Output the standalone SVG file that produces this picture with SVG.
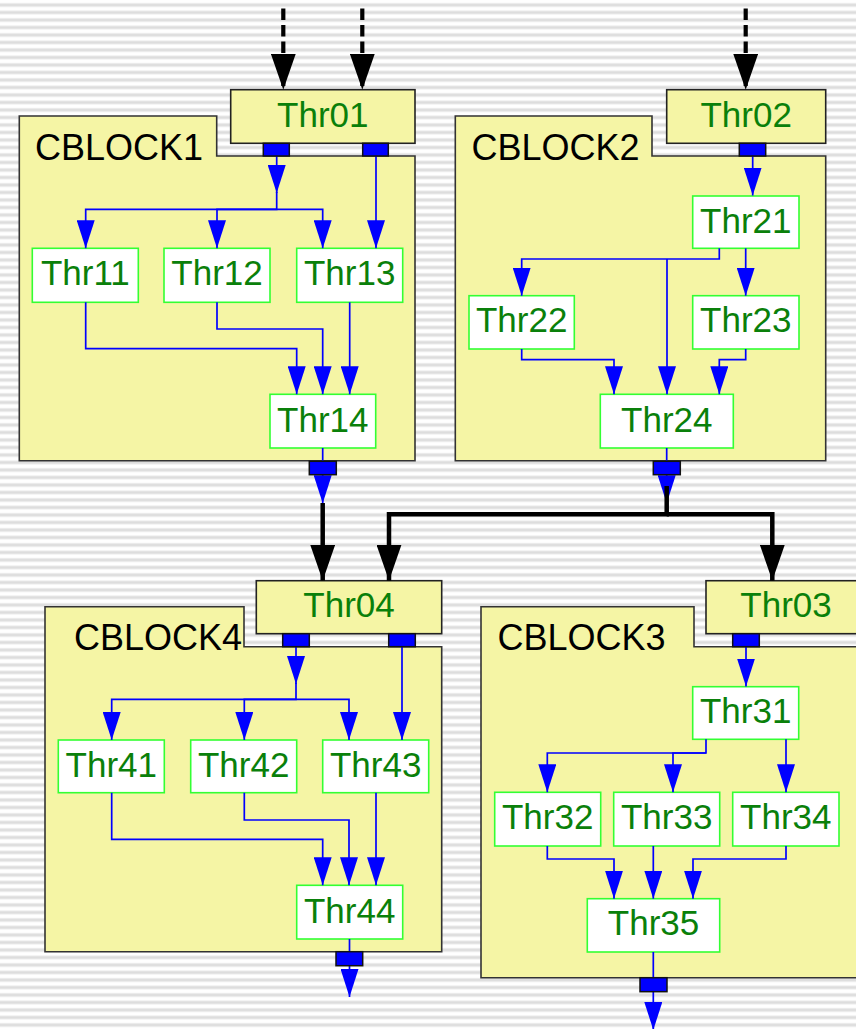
<svg xmlns="http://www.w3.org/2000/svg" width="856" height="1029" viewBox="0 0 856 1029">
<style>
.blk{fill:#f5f5a5;stroke:#333;stroke-width:1.6}
.thr{fill:#f5f5a5;stroke:#222;stroke-width:1.6}
.nd{fill:#fff;stroke:#3f3;stroke-width:1.6}
.tt{font-family:"Liberation Sans",Arial,sans-serif;font-size:35px;fill:#0a800a;text-anchor:middle}
.bt{font-family:"Liberation Sans",Arial,sans-serif;font-size:36px;fill:#000}
.bl{fill:none;stroke:#00f;stroke-width:1.7;marker-end:url(#ab)}
.bk{fill:none;stroke:#000;stroke-width:4.5;marker-end:url(#ak)}
.dk{fill:none;stroke:#000;stroke-width:4.2;stroke-dasharray:11.5,5;marker-end:url(#ak)}
.pt{fill:#00f;stroke:#111;stroke-width:1.5}
</style>
<defs>
<pattern id="bg" patternUnits="userSpaceOnUse" width="20" height="7.5">
<rect width="20" height="7.5" fill="#fff"/>
<rect y="3" width="20" height="4" fill="#ececec"/>
<rect y="4" width="20" height="2" fill="#dcdcdc"/>
</pattern>
<marker id="ab" markerUnits="userSpaceOnUse" viewBox="0 0 28 18" refX="28" refY="9" markerWidth="28" markerHeight="18" orient="auto"><path d="M0,0 L28,9 L0,18 Z" fill="#00f"/></marker>
<marker id="ak" markerUnits="userSpaceOnUse" viewBox="0 0 36 25" refX="36" refY="12.5" markerWidth="36" markerHeight="25" orient="auto"><path d="M0,0 L36,12.5 L0,25 Z" fill="#000"/></marker>
</defs>
<rect width="856" height="1029" fill="url(#bg)"/>

<g id="CBLOCK1"><path class="blk" d="M19.3,116 H216.7 V156 H415 V460.7 H19.3 Z"/><text class="bt" x="35" y="159.5">CBLOCK1</text></g>
<g id="CBLOCK2"><path class="blk" d="M455.3,116 H652 V156 H825.7 V460.7 H455.3 Z"/><text class="bt" x="471.5" y="159.5">CBLOCK2</text></g>
<g id="CBLOCK4"><path class="blk" d="M45,606.7 H244 V646.7 H441.7 V951.7 H45 Z"/><text class="bt" x="74" y="650">CBLOCK4</text></g>
<g id="CBLOCK3"><path class="blk" d="M481,606.7 H694 V646.7 H870 V977.7 H481 Z"/><text class="bt" x="497.5" y="650">CBLOCK3</text></g>

<g id="Thr01"><rect class="thr" x="230.7" y="89.7" width="184.3" height="53.6"/><text class="tt" x="322.8" y="126.5">Thr01</text></g>
<g id="Thr02"><rect class="thr" x="666.7" y="89.7" width="159" height="53.6"/><text class="tt" x="746.2" y="126.5">Thr02</text></g>
<g id="Thr04"><rect class="thr" x="256.3" y="580.7" width="185.4" height="53"/><text class="tt" x="349" y="616.7">Thr04</text></g>
<g id="Thr03"><rect class="thr" x="706" y="580.7" width="160" height="53"/><text class="tt" x="786" y="616.7">Thr03</text></g>

<g id="Thr11"><rect class="nd" x="32.3" y="248.3" width="106" height="54"/><text class="tt" x="85.3" y="285">Thr11</text></g>
<g id="Thr12"><rect class="nd" x="164" y="248.3" width="106" height="54"/><text class="tt" x="217" y="285">Thr12</text></g>
<g id="Thr13"><rect class="nd" x="296.7" y="248.3" width="106" height="54"/><text class="tt" x="349.7" y="285">Thr13</text></g>
<g id="Thr14"><rect class="nd" x="270" y="394.3" width="105.7" height="53.7"/><text class="tt" x="322.8" y="431.7">Thr14</text></g>

<g id="Thr21"><rect class="nd" x="692.7" y="196" width="106.3" height="52.3"/><text class="tt" x="745.8" y="232.5">Thr21</text></g>
<g id="Thr22"><rect class="nd" x="469" y="295.7" width="105.3" height="53.3"/><text class="tt" x="521.7" y="332.3">Thr22</text></g>
<g id="Thr23"><rect class="nd" x="692.7" y="295.7" width="106.3" height="53.3"/><text class="tt" x="745.8" y="332.3">Thr23</text></g>
<g id="Thr24"><rect class="nd" x="600.3" y="394.3" width="133" height="53.7"/><text class="tt" x="666.8" y="431.7">Thr24</text></g>

<g id="Thr41"><rect class="nd" x="58.3" y="740" width="106" height="52.7"/><text class="tt" x="111.3" y="776.7">Thr41</text></g>
<g id="Thr42"><rect class="nd" x="190.7" y="740" width="106" height="52.7"/><text class="tt" x="243.7" y="776.7">Thr42</text></g>
<g id="Thr43"><rect class="nd" x="322.7" y="740" width="106" height="52.7"/><text class="tt" x="375.7" y="776.7">Thr43</text></g>
<g id="Thr44"><rect class="nd" x="296.7" y="885.3" width="106" height="53.7"/><text class="tt" x="349.7" y="922.7">Thr44</text></g>

<g id="Thr31"><rect class="nd" x="692.7" y="686.7" width="106" height="52.6"/><text class="tt" x="745.7" y="723">Thr31</text></g>
<g id="Thr32"><rect class="nd" x="494.7" y="792.3" width="106" height="53.7"/><text class="tt" x="547.7" y="829.3">Thr32</text></g>
<g id="Thr33"><rect class="nd" x="613.7" y="792.3" width="106" height="53.7"/><text class="tt" x="666.7" y="829.3">Thr33</text></g>
<g id="Thr34"><rect class="nd" x="732.7" y="792.3" width="106.3" height="53.7"/><text class="tt" x="785.8" y="829.3">Thr34</text></g>
<g id="Thr35"><rect class="nd" x="587.3" y="898.7" width="132.4" height="53.3"/><text class="tt" x="653.5" y="935">Thr35</text></g>

<g id="connectors">
<path class="dk" d="M283.3,8.5 V89.7"/>
<path class="dk" d="M362.3,8.5 V89.7"/>
<path class="dk" d="M745.7,8.5 V89.7"/>

<path class="bl" d="M276.7,156 V193"/>
<path class="bl" d="M276.7,192 V209.3 H85.7 V248.3"/>
<path class="bl" d="M276.7,209.3 H217 V248.3"/>
<path class="bl" d="M276.7,209.3 H322.7 V248.3"/>
<path class="bl" d="M376,156 V248.3"/>
<path class="bl" d="M85.7,302.3 V348.7 H296.7 V394.3"/>
<path class="bl" d="M217,302.3 V329 H322.7 V394.3"/>
<path class="bl" d="M349.7,302.3 V394.3"/>
<path class="bl" d="M322.7,448 V503.3"/>

<path class="bl" d="M752.7,156 V195.5"/>
<path class="bl" d="M719.3,248.3 V259 H521.7 V295.7"/>
<path class="bl" d="M667,259 V394.3"/>
<path class="bl" d="M745.7,248.3 V295.7"/>
<path class="bl" d="M521.7,349 V359.7 H614 V394.3"/>
<path class="bl" d="M745.7,349 V359.7 H719.3 V394.3"/>
<path class="bl" d="M666.7,448 V503.3"/>

<path class="bl" d="M296,646.7 V684"/>
<path class="bl" d="M296,683 V699.3 H111.7 V740"/>
<path class="bl" d="M296,699.3 H244.3 V740"/>
<path class="bl" d="M296,699.3 H349 V740"/>
<path class="bl" d="M402,646.7 V740"/>
<path class="bl" d="M111.7,792.7 V839.3 H322.7 V885.3"/>
<path class="bl" d="M244.3,792.7 V820 H349 V885.3"/>
<path class="bl" d="M376,792.7 V885.3"/>
<path class="bl" d="M349.5,939 V997"/>

<path class="bl" d="M746,646.7 V686.5"/>
<path class="bl" d="M706,739.3 V753 H547.3 V792.3"/>
<path class="bl" d="M706,753 H673 V792.3"/>
<path class="bl" d="M786,739.3 V792.3"/>
<path class="bl" d="M547.3,846 V859 H614 V898.7"/>
<path class="bl" d="M653.3,846 V898.7"/>
<path class="bl" d="M786,846 V859 H693 V898.7"/>
<path class="bl" d="M653.3,952 V1030"/>

<path class="bk" d="M322.7,503 V580.7"/>
<path class="bk" d="M666.7,486 V514.3 H389 V580.7"/>
<path class="bk" d="M666.7,514.3 H772.3 V580.7"/>
</g>

<g id="ports">
<rect class="pt" x="263.3" y="143.3" width="26" height="12.7"/>
<rect class="pt" x="362.7" y="143.3" width="25.6" height="12.7"/>
<rect class="pt" x="739.3" y="143.3" width="26.4" height="12.7"/>
<rect class="pt" x="309.3" y="461.3" width="27" height="13.4"/>
<rect class="pt" x="653.3" y="461.3" width="27" height="13.4"/>
<rect class="pt" x="282.7" y="633.7" width="26.6" height="13"/>
<rect class="pt" x="388.7" y="633.7" width="26.6" height="13"/>
<rect class="pt" x="732.7" y="633.7" width="26.6" height="13"/>
<rect class="pt" x="336" y="951.7" width="26.7" height="14"/>
<rect class="pt" x="640" y="977.7" width="27" height="14"/>
</g>
</svg>
